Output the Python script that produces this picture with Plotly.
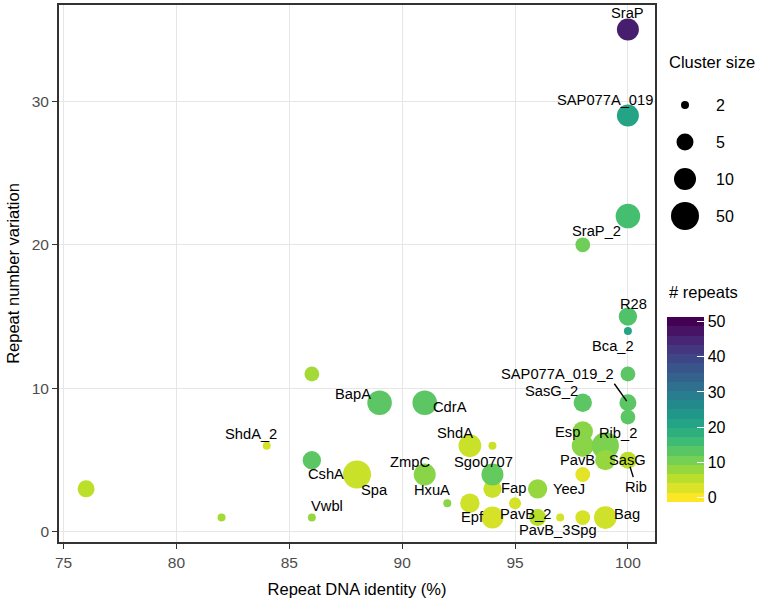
import numpy as np
import plotly.graph_objects as go
from plotly.colors import sample_colorscale

# ---------------- data ----------------
names = ["SraP", "SAP077A_019", "", "SraP_2", "R28", "Bca_2", "", "SAP077A_019_2", "",
         "SasG_2", "Esp", "", "Rib_2", "PavB", "Rib", "SasG", "", "YeeJ", "Fap", "",
         "PavB_2", "PavB_3Spg", "", "Bag", "", "Epf", "HxuA", "Sgo0707", "ShdA", "",
         "ZmpC", "CdrA", "BapA", "Spa", "CshA", "", "ShdA_2", "Vwbl", "", ""]
identity = [100, 100, 100, 98, 100, 100, 100, 100, 100,
            98, 98, 98, 99, 99, 100, 100, 98, 96, 94, 95,
            96, 97, 98, 99, 94, 93, 92, 94, 93, 94,
            91, 91, 89, 88, 86, 86, 84, 86, 82, 76]
variation = [35, 29, 22, 20, 15, 14, 11, 9, 8,
             9, 7, 6, 6, 5, 5, 5, 4, 3, 3, 2,
             1, 1, 1, 1, 1, 2, 2, 4, 6, 6,
             4, 9, 9, 4, 5, 11, 6, 1, 1, 3]
cluster_size = [10, 10, 20, 4, 6, 2, 4, 5, 4,
                6, 8, 10, 40, 8, 4, 5, 4, 7, 6, 3,
                5, 2, 4, 12, 10, 7, 2, 10, 12, 2,
                10, 20, 20, 50, 6, 4, 2, 2, 2, 5]
n_repeats = [46, 21, 15, 11, 14, 21, 13, 13, 13,
             13, 9, 9, 10, 8, 6, 5, 2, 8, 4, 3,
             5.5, 3, 3, 3.5, 3, 3.5, 9, 12, 4, 4,
             9, 13, 13, 4, 13, 7, 3, 8, 7, 5]

size_breaks = [2, 5, 10, 50]
repeat_ticks = [0, 10, 20, 30, 40, 50]
x_ticks = [75, 80, 85, 90, 95, 100]
y_ticks = [0, 10, 20, 30]

# ---------------- styles / positions ----------------
FONT = "Liberation Sans, Arial, Helvetica, sans-serif"
SIZE_PX = [8, 17, 22, 28]          # marker diameters of the size legend keys


def dot_px(c):
    return np.interp(np.log(c), np.log(size_breaks), SIZE_PX)


# label offsets (pixels) relative to their point
LABEL_SHIFT = {
    "SraP": (0, 16), "SAP077A_019": (-23, 16), "SraP_2": (14, 14), "R28": (6, 13),
    "Bca_2": (-15, -15), "SasG_2": (-31, 12), "Esp": (-15, -1), "Rib_2": (13, 13),
    "PavB": (-28, 0), "SasG": (0, 0), "YeeJ": (31, 0), "Fap": (21, 1),
    "PavB_2": (-12, 4), "PavB_3Spg": (-2, -12), "Bag": (22, 4), "Epf": (3, -14),
    "Sgo0707": (-9, 13), "ShdA": (-15, 13), "ZmpC": (-15, 13), "HxuA": (-15, 13),
    "CdrA": (25, -4), "BapA": (-27, 9), "CshA": (14, -14), "Spa": (17, -15),
    "ShdA_2": (-16, 12), "Vwbl": (15, 12),
    "SAP077A_019_2": (-70, 29), "Rib": (8, -27),
}
# repel segments: (start dx, start dy) in pixels from the point, standoff
SEGMENTS = {"SAP077A_019_2": (-15, -21, 2), "Rib": (6, 19, 7)}

# panel geometry in pixels
W, H = 762, 601
L, R, T, B = 59, 655, 5, 542
PW, PH = R - L, B - T


def px_x(p):
    return (p - L) / PW


def px_y(p):
    return (B - p) / PH


fig = go.Figure()

# data points
fig.add_trace(go.Scatter(
    x=identity, y=variation, mode="markers",
    marker=dict(size=[dot_px(c) for c in cluster_size], color=n_repeats,
                colorscale="Viridis", reversescale=True, cmin=0, cmax=50,
                opacity=1, line=dict(width=0), showscale=False),
    text=names, hovertemplate="%{text}<br>%{x}%, %{y}<extra></extra>",
    showlegend=False,
))

# binned colour bar (20 bins like ggplot's colourbar)
nbin = 20
cols = sample_colorscale("Viridis", [1 - i / (nbin - 1) for i in range(nbin)])
binned = []
for i, c in enumerate(cols):
    binned += [[i / nbin, c], [(i + 1) / nbin, c]]
half = (max(repeat_ticks) - min(repeat_ticks)) / (nbin - 1) / 2
fig.add_trace(go.Scatter(
    x=[identity[0]], y=[variation[0]], mode="markers", hoverinfo="skip",
    showlegend=False,
    marker=dict(size=1, opacity=0, color=[n_repeats[0]], colorscale=binned,
                cmin=min(repeat_ticks) - half, cmax=max(repeat_ticks) + half,
                showscale=True,
                colorbar=dict(
                    thickness=37, thicknessmode="pixels",
                    len=185, lenmode="pixels",
                    x=px_x(667), xanchor="left", xpad=0,
                    y=px_y(409.5), yanchor="middle", ypad=0,
                    tickvals=repeat_ticks, ticktext=[str(v) for v in repeat_ticks],
                    ticks="inside", ticklen=7, tickcolor="white", tickwidth=1.2,
                    outlinewidth=0, tickfont=dict(size=16, color="black", family=FONT),
                ))))

annotations = []
for i, n in enumerate(names):
    if n in LABEL_SHIFT:
        dx, dy = LABEL_SHIFT[n]
        annotations.append(dict(x=identity[i], y=variation[i], xref="x", yref="y",
                                text=n, showarrow=False, xshift=dx, yshift=dy,
                                font=dict(size=14.7, color="black", family=FONT)))
    if n in SEGMENTS:
        ax, ay, so = SEGMENTS[n]
        annotations.append(dict(x=identity[i], y=variation[i], xref="x", yref="y",
                                text=" ", font=dict(size=1), showarrow=True,
                                ax=ax, ay=ay, arrowhead=0, arrowwidth=1.4,
                                arrowcolor="black", standoff=so))

# colour bar title
annotations.append(dict(x=px_x(667), y=px_y(292), xref="paper", yref="paper",
                        text="# repeats", showarrow=False, xanchor="left",
                        yanchor="middle",
                        font=dict(size=16.5, color="black", family=FONT)))

# size legend
shapes = []
annotations.append(dict(x=px_x(667), y=px_y(62), xref="paper", yref="paper",
                        text="Cluster size", showarrow=False, xanchor="left",
                        yanchor="middle",
                        font=dict(size=16.5, color="black", family=FONT)))
key_y = [105, 142, 179, 216]
for s, ky in zip(size_breaks, key_y):
    r = dot_px(s) / 2
    shapes.append(dict(type="circle", xref="paper", yref="paper",
                       xsizemode="pixel", ysizemode="pixel",
                       xanchor=px_x(685), yanchor=px_y(ky),
                       x0=-r, x1=r, y0=-r, y1=r,
                       fillcolor="black", line=dict(width=0)))
    annotations.append(dict(x=px_x(714), y=px_y(ky), xref="paper", yref="paper",
                            text=str(s), showarrow=False, xanchor="left",
                            yanchor="middle",
                            font=dict(size=16, color="black", family=FONT)))

axis_common = dict(showgrid=True, gridcolor="#e6e6e6", gridwidth=1.3,
                   zeroline=False, showline=True, linecolor="#333333", linewidth=1.8,
                   mirror=True, ticks="outside", ticklen=5, tickcolor="#333333",
                   tickwidth=1.2, tickfont=dict(size=15.5, color="#4d4d4d", family=FONT))

fig.update_layout(
    width=W, height=H, autosize=False,
    margin=dict(l=L, r=W - R, t=T, b=H - B, autoexpand=False),
    paper_bgcolor="white", plot_bgcolor="white",
    font=dict(family=FONT, color="black"),
    xaxis=dict(range=[74.8, 101.2], tickvals=x_ticks,
               title=dict(text="Repeat DNA identity (%)", standoff=14,
                          font=dict(size=16.5, color="black", family=FONT)),
               **axis_common),
    yaxis=dict(range=[-0.7, 36.7], tickvals=y_ticks,
               title=dict(text="Repeat number variation", standoff=8,
                          font=dict(size=16.5, color="black", family=FONT)),
               **axis_common),
    annotations=annotations, shapes=shapes,
)

fig.write_html("out.html", config={"displayModeBar": False},
               post_script="document.body.style.margin='0px';"
                           "document.documentElement.style.overflow='hidden';")
